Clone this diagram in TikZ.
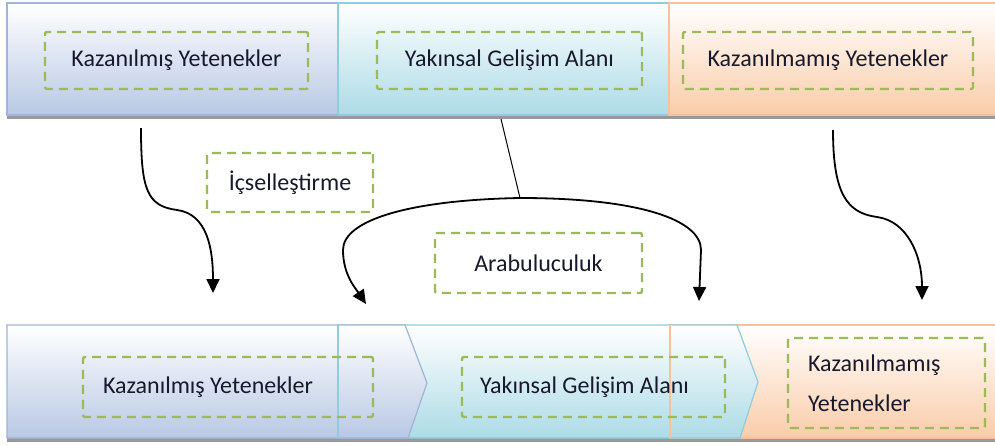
\documentclass[tikz,border=0pt]{standalone}
\usepackage{fontspec}
\setmainfont{Carlito}
\usetikzlibrary{arrows.meta, positioning, calc}
\definecolor{kazfill}{RGB}{184, 200, 228}
\definecolor{kazline}{RGB}{160, 180, 215}
\definecolor{yakfill}{RGB}{172, 219, 230}
\definecolor{yakline}{RGB}{140, 205, 222}
\definecolor{kzmfill}{RGB}{250, 204, 168}
\definecolor{kzmline}{RGB}{248, 192, 155}
\definecolor{dashgreen}{RGB}{155, 187, 89}
\definecolor{textdark}{RGB}{25, 25, 45}

\begin{document}
\begin{tikzpicture}[
    x=0.5pt, y=-0.5pt,
    tagbox/.style={draw=dashgreen, dash pattern=on 4.5pt off 3pt, line width=1.2pt,
                   rounded corners=1pt, text=textdark, inner sep=0pt,
                   font=\fontsize{12}{20}\selectfont},
    kazbar/.style={draw=kazline, line width=0.6pt, top color=white, bottom color=kazfill},
    yakbar/.style={draw=yakline, line width=0.6pt, top color=white, bottom color=yakfill},
    kzmbar/.style={draw=kzmline, line width=0.6pt, top color=white, bottom color=kzmfill},
    barshadow/.style={fill=black!40},
    arrow/.style={-{Triangle[length=7pt, width=6.5pt]}, line width=0.9pt, black}
]
    \fill[white] (0,0) rectangle (995,445);
    \useasboundingbox (0,0) rectangle (995,445);

    % Bars
    \fill[barshadow] (7,115) rectangle (995,119);
    \path[kazbar] (7,3) rectangle (338,115);
    \path[yakbar] (338,3) rectangle (669,115);
    \path[kzmbar] (669,3) rectangle (1000,115);

    \fill[barshadow] (7,438) rectangle (995,442);
    \path[kzmbar] (670,325) rectangle (1000,438);
    \path[yakbar] (338,325) -- (737,325) -- (758,382) -- (740,438) -- (338,438) -- cycle;
    \path[kazbar] (7,325) -- (405,325) -- (427,383) -- (408,438) -- (7,438) -- cycle;
    \draw[yakline, line width=0.6pt] (338,325) -- (338,438);
    \draw[kzmline, line width=0.6pt] (670,325) -- (670,438);

    % Nodes
    \node[tagbox, minimum width=131.5pt, minimum height=28.5pt] (kazTop) at (176.5,60.5) {Kazanılmış Yetenekler};
    \node[tagbox, minimum width=132.5pt, minimum height=28.5pt] (yakTop) at (509.5,60.5) {Yakınsal Gelişim Alanı};
    \node[tagbox, minimum width=145pt, minimum height=28.5pt] (kzmTop) at (828,60.5) {Kazanılmamış Yetenekler};
    \node[tagbox, minimum width=83pt, minimum height=29.5pt] (icsel) at (290,182.5) {İçselleştirme};
    \node[tagbox, minimum width=103.5pt, minimum height=30pt] (arabul) at (538.5,263) {Arabuluculuk};
    \node[tagbox, text width=125pt, inner xsep=10pt, align=flush left, minimum height=30pt] (kazBot) at (228,387) {Kazanılmış Yetenekler};
    \node[tagbox, text width=113.5pt, inner xsep=9pt, align=flush left, minimum height=30pt] (yakBot) at (593.5,387) {Yakınsal Gelişim Alanı};
    \node[tagbox, text width=78.5pt, inner xsep=10pt, align=flush left, minimum height=45pt] (kzmBot) at (886.5,383) {Kazanılmamış\\Yetenekler};

    \coordinate (icsA) at (141,128);
    \coordinate (icsM) at (177,210);
    \coordinate (icsB) at (213,293);
    \coordinate (kzmA) at (833,130);
    \coordinate (kzmM) at (877,217);
    \coordinate (kzmB) at (922,300);
    \coordinate (yakA) at (501,119);
    \coordinate (yakM) at (520,198);
    \coordinate (arbL) at (366,304);
    \coordinate (arbR) at (699,301);

    % Arrows
    \draw[arrow] (icsA) .. controls +(0,62) and +(-30,-4) .. (icsM)
                        .. controls +(30,4) and +(0,-45) .. (icsB);
    \draw[arrow] (kzmA) .. controls +(0,64) and +(-30,-4) .. (kzmM)
                        .. controls +(30,4) and +(0,-45) .. (kzmB);
    \draw[line width=0.5pt] (yakA) -- (yakM);
    \draw[arrow] (yakM) .. controls +(-110,2) and +(0,-30) .. (343,250)
                        .. controls +(0,25) and +(-10,-15) .. (arbL);
    \draw[arrow] (yakM) .. controls +(120,0) and +(0,-30) .. (701,250) -- (arbR);
\end{tikzpicture}
\end{document}
